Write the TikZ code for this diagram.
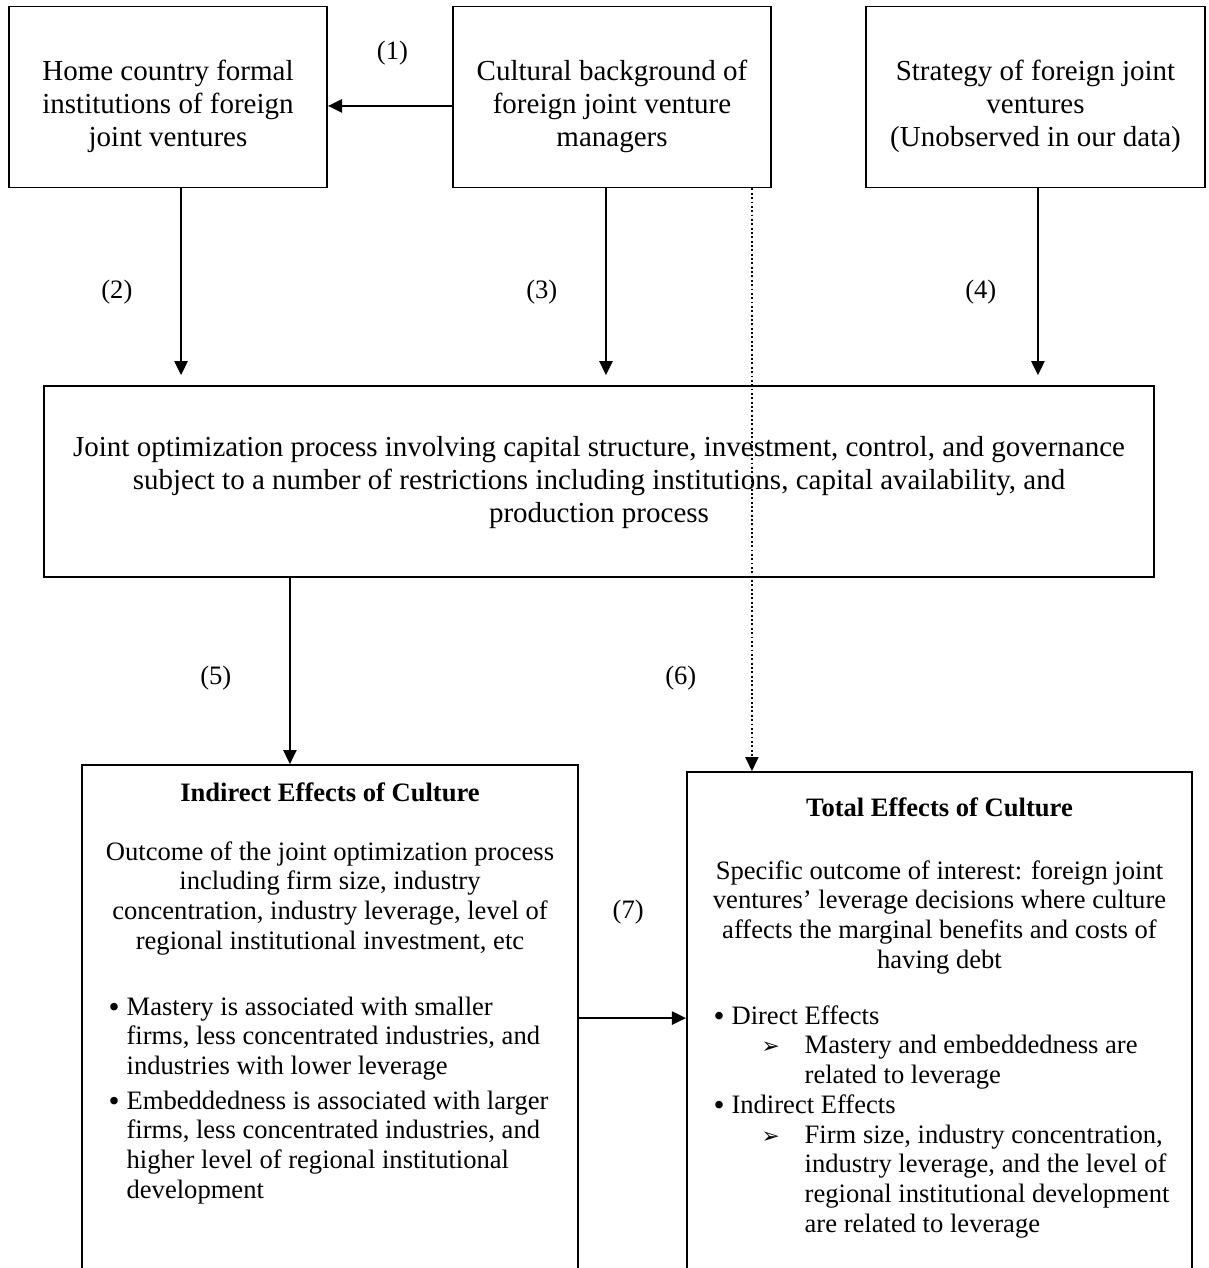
\documentclass[tikz,border=0pt]{standalone}
\usepackage{fontspec}
\setmainfont{Liberation Serif}
\newfontfamily\arrowfont{DejaVu Sans}
\usetikzlibrary{positioning,arrows.meta}

\begin{document}
\begin{tikzpicture}[x=0.4138pt, y=-0.4138pt, >={Triangle[length=5.8pt, width=5.4pt]},
  panel/.style={draw, rectangle, line width=0.8pt, inner sep=0pt},
  toptext/.style={align=center, inner sep=0pt, font=\fontsize{12}{13.7}\selectfont},
  lowtext/.style={align=center, inner sep=0pt, font=\fontsize{11}{12.3}\selectfont},
  headtext/.style={align=center, inner sep=0pt, font=\fontsize{11}{12.3}\selectfont\bfseries},
  listtext/.style={align=left, inner sep=0pt, font=\fontsize{11}{12.3}\selectfont},
  num/.style={inner sep=0pt, font=\fontsize{11}{13}\selectfont},
  link/.style={->, line width=0.9pt}]
  \useasboundingbox (0,0) rectangle (1208,1268);

  \node[panel, minimum width=131.6pt, minimum height=74.9pt] (home) at (168,97) {};
  \node[panel, minimum width=131.6pt, minimum height=74.9pt] (culture) at (612,97) {};
  \node[panel, minimum width=140.3pt, minimum height=74.9pt] (strategy) at (1035.5,97) {};
  \node[panel, minimum width=459.3pt, minimum height=79pt] (joint) at (599,481.5) {};
  \node[panel, minimum width=205.2pt, minimum height=217.2pt] (indirect) at (330,1027.5) {};
  \node[panel, minimum width=209pt, minimum height=214.3pt] (total) at (939.5,1031) {};

  \node[toptext, below=58.4pt of home.north, anchor=base] (hometext) {Home country formal\\institutions of foreign\\joint ventures};
  \node[toptext, below=58.4pt of culture.north, anchor=base] (culturetext) {Cultural background of\\foreign joint venture\\managers};
  \node[toptext, below=58.4pt of strategy.north, anchor=base] (strategytext) {Strategy of foreign joint\\ventures\\(Unobserved in our data)};
  \node[toptext, below=56.8pt of joint.north, anchor=base] (jointtext) {Joint optimization process involving capital structure, investment, control, and governance\\subject to a number of restrictions including institutions, capital availability, and\\production process};

  \node[headtext, below=15.3pt of indirect.north, anchor=base] (indirecttitle) {Indirect Effects of Culture};
  \node[lowtext, below=76.6pt of indirect.north, anchor=base] (indirecttext) {Outcome of the joint optimization process\\including firm size, industry\\concentration, industry leverage, level of\\regional institutional investment, etc};
  \node[listtext, below right=179.7pt and 11.2pt of indirect.north west, anchor=base west] (indirectlist) {%
    \makebox[7.45pt][l]{\raisebox{-1pt}{\fontsize{13}{13}\selectfont•}}Mastery is associated with smaller\\
    \hspace*{7.45pt}firms, less concentrated industries, and\\
    \hspace*{7.45pt}industries with lower leverage\\[2pt]
    \makebox[7.45pt][l]{\raisebox{-1pt}{\fontsize{13}{13}\selectfont•}}Embeddedness is associated with larger\\
    \hspace*{7.45pt}firms, less concentrated industries, and\\
    \hspace*{7.45pt}higher level of regional institutional\\
    \hspace*{7.45pt}development};

  \node[headtext, below=18.6pt of total.north, anchor=base] (totaltitle) {Total Effects of Culture};
  \node[lowtext, below=81.6pt of total.north, anchor=base] (totaltext) {Specific outcome of interest: foreign joint\\ventures’ leverage decisions where culture\\affects the marginal benefits and costs of\\having debt};
  \node[listtext, below right=190.8pt and 11.2pt of total.north west, anchor=base west] (totallist) {%
    \makebox[7.45pt][l]{\raisebox{-1pt}{\fontsize{13}{13}\selectfont•}}Direct Effects\\
    \hspace*{19.9pt}\makebox[17.8pt][l]{\arrowfont\fontsize{9}{9}\selectfont ➢}Mastery and embeddedness are\\
    \hspace*{37.7pt}related to leverage\\
    \makebox[7.45pt][l]{\raisebox{-1pt}{\fontsize{13}{13}\selectfont•}}Indirect Effects\\
    \hspace*{19.9pt}\makebox[17.8pt][l]{\arrowfont\fontsize{9}{9}\selectfont ➢}Firm size, industry concentration,\\
    \hspace*{37.7pt}industry leverage, and the level of\\
    \hspace*{37.7pt}regional institutional development\\
    \hspace*{37.7pt}are related to leverage};

  \draw[link] ([yshift=-3.7pt]culture.west) -- ([yshift=-3.7pt]culture.west -| home.east) node[num, pos=0.48, above=16.3pt] {(1)};
  \draw[link, shorten >=4.1pt] ([xshift=5.4pt]home.south) -- ([xshift=5.4pt]home.south |- joint.north) node[num, pos=0.525, left=19.7pt] {(2)};
  \draw[link, shorten >=4.1pt] ([xshift=-2.5pt]culture.south) -- ([xshift=-2.5pt]culture.south |- joint.north) node[num, pos=0.525, left=19.7pt] {(3)};
  \draw[link, shorten >=4.1pt] ([xshift=1pt]strategy.south) -- ([xshift=1pt]strategy.south |- joint.north) node[num, pos=0.525, left=16.8pt] {(4)};
  \draw[link] ([xshift=-127.9pt]joint.south) -- ([xshift=-127.9pt]joint.south |- indirect.north) node[num, pos=0.54, left=23.8pt] {(5)};
  \draw[link, line width=0.8pt, dash pattern=on 0.8pt off 1pt] ([xshift=57.9pt]culture.south) -- ([xshift=57.9pt]culture.south |- total.north) node[num, pos=0.84, left=22.6pt] {(6)};
  \draw[link] ([yshift=3.9pt]indirect.east) -- ([yshift=3.9pt]indirect.east -| total.west) node[num, pos=0.46, above=38.5pt] {(7)};
\end{tikzpicture}
\end{document}
